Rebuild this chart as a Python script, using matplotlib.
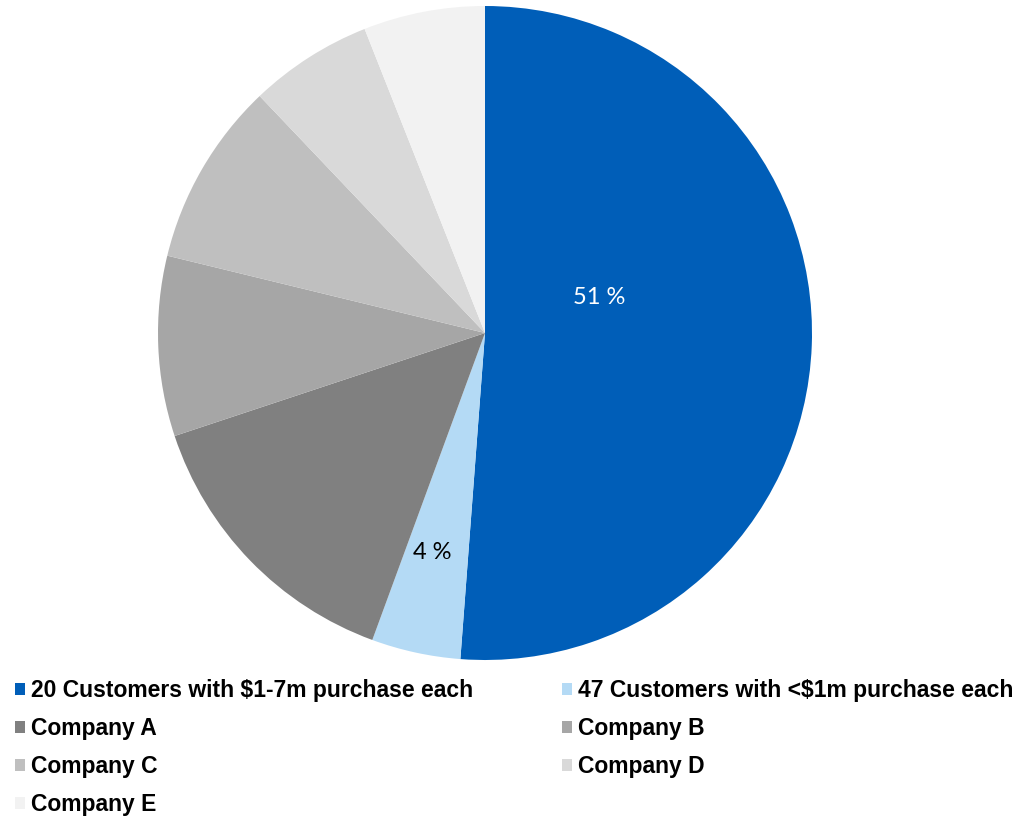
import matplotlib.pyplot as plt
from matplotlib.patches import Patch

# Share of total purchases by customer group
labels = [
    "20 Customers with $1-7m purchase each",
    "47 Customers with <$1m purchase each",
    "Company A",
    "Company B",
    "Company C",
    "Company D",
    "Company E",
]
shares = [51.2, 4.4, 14.3, 8.9, 9.1, 6.1, 6.0]
colors = ["#005EB8", "#B4DAF5", "#808080", "#A6A6A6", "#BFBFBF", "#D9D9D9", "#F2F2F2"]

W, H = 1020, 817
fig = plt.figure(figsize=(W / 100, H / 100), dpi=100)

# pie area in pixels: centre (485, 333), radius 327
cx, cy, r = 485, 333, 327
ax = fig.add_axes([(cx - r) / W, (H - cy - r) / H, 2 * r / W, 2 * r / H])
wedges, _ = ax.pie(shares, colors=colors, startangle=90, counterclock=False,
                   radius=1.0, wedgeprops=dict(linewidth=0))
ax.set_xlim(-1, 1)
ax.set_ylim(-1, 1)
ax.set_aspect("equal")
ax.axis("off")

# data labels for the two customer groups
ax.text(0.35, 0.11, f"{round(shares[0])} %", color="white", fontsize=17,
        family="Lato", ha="center", va="center")
ax.text(-0.16, -0.67, f"{round(shares[1])} %", color="black", fontsize=17,
        family="Lato", ha="center", va="center")

# legend laid out row by row in two columns
order = [0, 2, 4, 6, 1, 3, 5]
handles = [Patch(facecolor=colors[i], edgecolor="none") for i in order]
fig.legend(handles, [labels[i] for i in order], ncol=2, loc="upper left",
           bbox_to_anchor=(15 / W, 1 - 679 / H), frameon=False,
           prop=dict(family="Liberation Sans", weight="bold", size=16.5),
           handlelength=0.44, handleheight=0.44, handletextpad=0.27,
           labelspacing=0.66, columnspacing=3.85, borderaxespad=0, borderpad=0)

fig.savefig("out.png", dpi=100)
